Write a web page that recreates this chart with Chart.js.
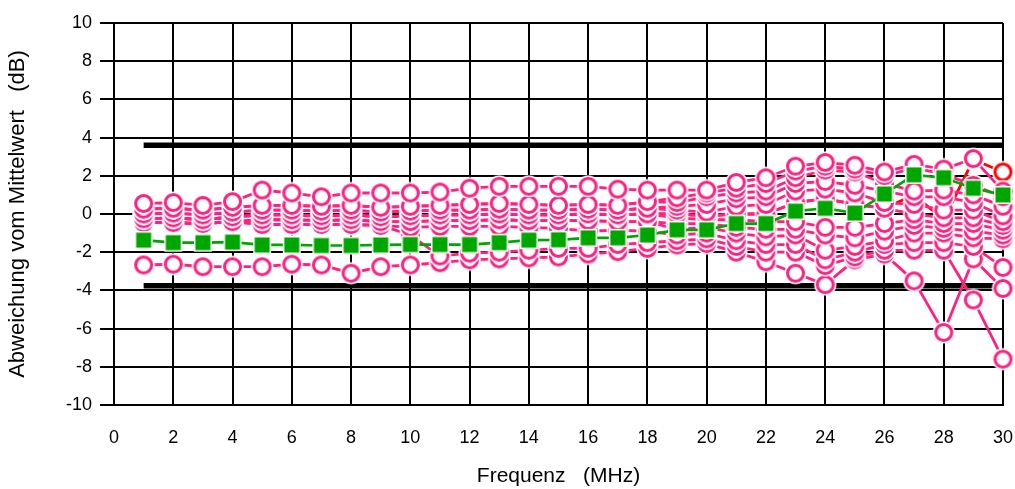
<!DOCTYPE html>
<html>
<head>
<meta charset="utf-8">
<script src="https://cdn.jsdelivr.net/npm/chart.js@4.4.1/dist/chart.umd.min.js"></script>
<style>
html,body{margin:0;padding:0;background:#fff;}
#wrap{width:1015px;height:489px;}
</style>
</head>
<body>
<div id="wrap"><canvas id="c" width="1015" height="489"></canvas></div>
<script>
// ---- data ----
const frequencies = [1,2,3,4,5,6,7,8,9,10,11,12,13,14,15,16,17,18,19,20,21,22,23,24,25,26,27,28,29,30];
const xTicks = [0,2,4,6,8,10,12,14,16,18,20,22,24,26,28,30];
const yTicks = [-10,-8,-6,-4,-2,0,2,4,6,8,10];

const pink01 = [0.55,0.6,0.45,0.65,1.25,1.1,0.9,1.1,1.1,1.1,1.15,1.35,1.45,1.45,1.45,1.45,1.3,1.25,1.25,1.25,1.65,1.9,2.5,2.7,2.55,2.2,2.6,2.35,2.9,1.2];
const pink02 = [0.25,0.3,0.2,0.35,0.45,0.45,0.4,0.45,0.35,0.4,0.45,0.5,0.55,0.5,0.45,0.5,0.45,0.65,0.85,1.1,1.35,1.6,2.25,2.5,2.35,2.0,2.4,2.1,1.5,0.9];
const pink03 = [0.25,0.3,0.2,0.35,0.45,0.45,0.4,0.45,0.35,0.4,0.45,0.5,0.55,0.5,0.45,0.5,0.45,0.65,0.6,0.9,1.1,1.2,1.9,2.3,2.2,1.6,1.2,1.25,1.0,0.4];
const pink04 = [0.0,0.05,-0.05,0.1,0.2,0.2,0.15,0.2,0.1,0.15,0.2,0.2,0.25,0.2,0.2,0.25,0.2,0.3,0.4,0.5,0.8,0.9,1.6,1.7,1.5,1.2,0.9,0.9,0.6,-0.1];
const pink05 = [0.0,0.05,-0.05,0.1,0.2,0.2,0.15,0.2,0.1,0.15,0.2,0.2,0.25,0.2,0.2,0.25,0.2,0.3,0.2,0.1,0.4,0.5,1.2,1.3,1.1,0.6,0.5,0.2,0.2,-0.4];
const pink06 = [-0.25,-0.2,-0.3,-0.15,-0.05,-0.05,-0.1,-0.05,-0.15,-0.1,-0.05,-0.05,0.0,-0.05,-0.05,0.0,-0.05,0.0,0.0,-0.1,0.0,0.0,0.6,0.8,0.5,0.3,0.0,-0.2,-0.2,-0.6];
const pink07 = [-0.25,-0.2,-0.3,-0.15,-0.05,-0.05,-0.1,-0.05,-0.15,-0.1,-0.05,-0.05,0.0,-0.05,-0.05,0.0,-0.05,0.0,-0.2,-0.3,-0.3,-0.4,-0.4,-0.7,-0.7,-0.5,-0.3,-0.5,-0.5,-0.85];
const pink08 = [-0.45,-0.45,-0.5,-0.4,-0.3,-0.3,-0.35,-0.3,-0.4,-0.4,-0.35,-0.35,-0.3,-0.35,-0.35,-0.35,-0.4,-0.4,-0.5,-0.5,-0.7,-0.8,-0.8,-1.1,-1.25,-0.9,-0.6,-0.75,-0.9,-1.1];
const pink09 = [-0.45,-0.45,-0.5,-0.4,-0.3,-0.3,-0.35,-0.3,-0.4,-0.4,-0.35,-0.35,-0.3,-0.35,-0.35,-0.35,-0.4,-0.4,-0.8,-0.7,-1.0,-1.2,-1.1,-1.9,-1.7,-1.4,-1.0,-1.0,-1.25,-1.3];
const pink10 = [-0.45,-0.45,-0.5,-0.4,-0.55,-0.55,-0.55,-0.55,-0.6,-0.7,-0.65,-0.65,-0.65,-0.7,-0.75,-0.9,-0.85,-0.9,-1.1,-1.0,-1.4,-1.6,-1.6,-2.4,-2.0,-1.6,-1.5,-1.5,-1.7,-2.8];
const pink11 = [-0.45,-0.45,-0.5,-0.4,-0.55,-0.55,-0.55,-0.55,-0.6,-1.1,-2.2,-2.05,-2.0,-1.9,-1.8,-1.8,-1.6,-1.5,-1.4,-1.3,-1.7,-2.0,-2.0,-2.7,-2.25,-1.9,-1.9,-1.9,-4.5,-7.6];
const pink12 = [-2.67,-2.63,-2.76,-2.76,-2.76,-2.63,-2.67,-3.1,-2.76,-2.67,-2.55,-2.4,-2.35,-2.3,-2.25,-2.1,-1.97,-1.8,-1.62,-1.55,-2.0,-2.5,-3.1,-3.7,-2.4,-2.1,-3.5,-6.2,-2.35,-3.9];
const red01 = [-0.25,-0.2,-0.3,-0.15,-0.05,-0.05,-0.1,-0.05,-0.15,-0.1,-0.05,-0.05,0.0,-0.05,-0.05,0.0,-0.05,0.0,0.0,-0.1,0.0,0.0,0.6,0.8,0.5,0.3,1.0,-0.3,2.85,2.2];
const greenMean = [-1.37,-1.5,-1.5,-1.47,-1.62,-1.62,-1.65,-1.65,-1.62,-1.6,-1.6,-1.6,-1.5,-1.37,-1.35,-1.25,-1.25,-1.1,-0.83,-0.83,-0.5,-0.5,0.15,0.3,0.05,1.05,2.05,1.9,1.35,1.0];
const upperLimit = [3.6,3.6,3.6,3.6,3.6,3.6,3.6,3.6,3.6,3.6,3.6,3.6,3.6,3.6,3.6,3.6,3.6,3.6,3.6,3.6,3.6,3.6,3.6,3.6,3.6,3.6,3.6,3.6,3.6,3.6];
const lowerLimit = [-3.75,-3.75,-3.75,-3.75,-3.75,-3.75,-3.75,-3.75,-3.75,-3.75,-3.75,-3.75,-3.75,-3.75,-3.75,-3.75,-3.75,-3.75,-3.75,-3.75,-3.75,-3.75,-3.75,-3.75,-3.75,-3.75,-3.75,-3.75,-3.75,-3.75];

// ---- styles ----
const PINK = '#FF2080';
const RED = '#FF0000';
const GREEN = '#00A600';

function ringMarker(color){
  const r = 8, bw = 3, halo = 1.6;
  const size = Math.ceil(2*(r + bw/2 + halo)) + 2;
  const c = document.createElement('canvas');
  c.width = size; c.height = size;
  const g = c.getContext('2d');
  const m = size/2;
  g.fillStyle = '#fff';
  g.beginPath(); g.arc(m, m, r + bw/2 + halo, 0, Math.PI*2); g.fill();
  g.beginPath(); g.arc(m, m, r, 0, Math.PI*2);
  g.fillStyle = '#fff'; g.fill();
  g.lineWidth = bw; g.strokeStyle = color; g.stroke();
  return c;
}
function squareMarker(color){
  const s = 15, halo = 1.5;
  const size = Math.ceil(s + 2*halo) + 2;
  const c = document.createElement('canvas');
  c.width = size; c.height = size;
  const g = c.getContext('2d');
  const m = size/2;
  g.fillStyle = '#fff';
  g.fillRect(m - s/2 - halo, m - s/2 - halo, s + 2*halo, s + 2*halo);
  g.fillStyle = color;
  g.fillRect(m - s/2, m - s/2, s, s);
  return c;
}
const pinkMarker = ringMarker(PINK);
const redMarker = ringMarker(RED);
const greenMarker = squareMarker(GREEN);

function toPoints(arr){ return frequencies.map((f,i)=>({x:f, y:arr[i]})); }

const pinkList = [pink01,pink02,pink03,pink04,pink05,pink06,pink07,pink08,pink09,pink10,pink11,pink12];

const datasets = [];
datasets.push({label:'Mittel', data: toPoints(greenMean), borderColor: GREEN, borderWidth: 2.7,
  pointStyle: greenMarker, pointRadius: 9, clip: false});
pinkList.forEach((arr,i)=>{
  datasets.push({label:'P'+(i+1), data: toPoints(arr), borderColor: PINK, borderWidth: 2.8,
    pointStyle: pinkMarker, pointRadius: 9, clip: false});
});
datasets.push({label:'R', data: toPoints(red01), borderColor: RED, borderWidth: 2.8,
  pointStyle: redMarker, pointRadius: 9, clip: false});
datasets.push({label:'OG', data: toPoints(upperLimit), borderColor: '#000', borderWidth: 5.5, pointRadius: 0, clip: false});
datasets.push({label:'UG', data: toPoints(lowerLimit), borderColor: '#000', borderWidth: 5.5, pointRadius: 0, clip: false});

const FONT = "'Liberation Sans', Arial, sans-serif";

new Chart(document.getElementById('c'), {
  type: 'line',
  data: { datasets },
  options: {
    responsive: false,
    animation: false,
    events: [],
    layout: { padding: { left: 0, right: 0, top: 23, bottom: 0 } },
    elements: { line: { tension: 0, fill: false }, point: { borderWidth: 0 } },
    plugins: { legend: { display: false }, tooltip: { enabled: false } },
    scales: {
      x: {
        type: 'linear', min: 0, max: 30,
        afterBuildTicks: (s) => { s.ticks = xTicks.map(v => ({value: v})); },
        afterFit: (s) => { s.height = 84; },
        ticks: { color: '#000', font: { family: FONT, size: 18 }, padding: 2, maxRotation: 0 },
        grid: { color: '#000', lineWidth: 2, drawTicks: true, tickLength: 20, tickColor: 'rgba(0,0,0,0)' },
        border: { color: '#000', width: 2 },
        title: { display: true, text: 'Frequenz   (MHz)', color: '#000', font: { family: FONT, size: 21 }, padding: { top: 0, bottom: 0 } }
      },
      y: {
        type: 'linear', min: -10, max: 10,
        afterBuildTicks: (s) => { s.ticks = yTicks.map(v => ({value: v})); },
        afterFit: (s) => { s.width = 114; },
        ticks: { color: '#000', font: { family: FONT, size: 18 }, padding: 8 },
        grid: { color: '#000', lineWidth: 2, drawTicks: true, tickLength: 14, tickColor: '#000', tickWidth: 2 },
        border: { color: '#000', width: 2 },
        title: { display: true, text: 'Abweichung vom Mittelwert   (dB)', color: '#000', font: { family: FONT, size: 22 }, padding: { top: 5, bottom: 0 } }
      }
    }
  }
});
</script>
</body>
</html>
